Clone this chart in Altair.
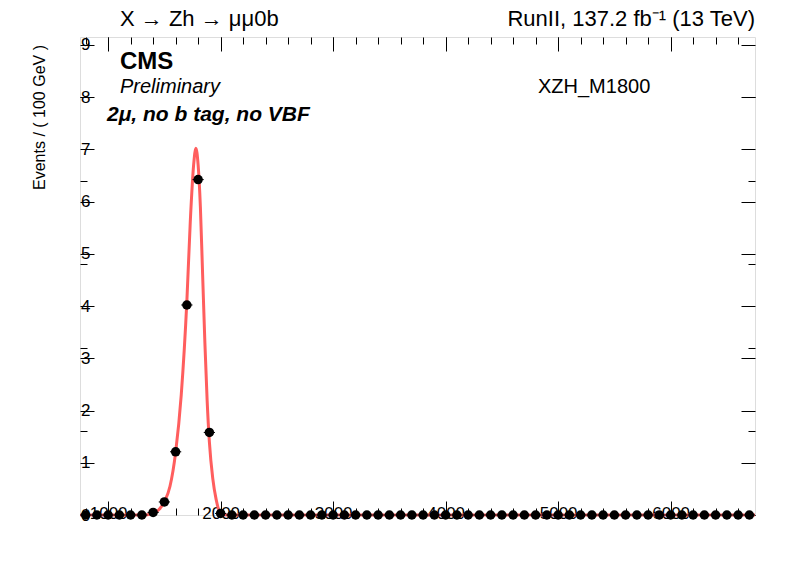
import altair as alt
import pandas as pd

# data points (bin centres, 100 GeV bins)
mass = list(range(800, 6800, 100))
events = [0.0] * len(mass)
peak = {1400: 0.05, 1500: 0.25, 1600: 1.21, 1700: 4.02, 1800: 6.42, 1900: 1.58, 2000: 0.03}
for m, v in peak.items():
    events[mass.index(m)] = v
yerr = [0.03 if v > 0 else 0.0 for v in events]

# signal shape
curve_x = [750, 1300, 1400, 1450, 1500, 1550, 1600, 1650, 1700, 1730, 1760, 1780,
           1800, 1820, 1840, 1860, 1880, 1900, 1930, 1960, 2000, 2050, 6750]
curve_y = [0.0, 0.0, 0.03, 0.1, 0.25, 0.55, 1.2, 2.3, 4.1, 5.6, 6.7, 7.02,
           6.7, 5.9, 4.6, 3.3, 2.2, 1.4, 0.7, 0.3, 0.03, 0.0, 0.0]

pts = pd.DataFrame({"m": mass, "n": events, "lo": [m - 50 for m in mass],
                    "hi": [m + 50 for m in mass],
                    "nlo": [n - e for n, e in zip(events, yerr)],
                    "nhi": [n + e for n, e in zip(events, yerr)]})
crv = pd.DataFrame({"m": curve_x, "n": curve_y})

FONT = "Liberation Sans"
xs = alt.Scale(domain=[750, 6750], nice=False, zero=False)
ys = alt.Scale(domain=[0, 9.15], nice=False)

def ax(size, vals, labels, orient):
    return alt.Axis(values=vals, tickSize=size, offset=-size, domain=False, grid=False,
                    labels=labels, labelPadding=-size + 4 if labels else 0, orient=orient,
                    format="d", labelFont=FONT, labelFontSize=17, labelColor="black",
                    tickColor="black", title=None)

major_x = list(range(1000, 7000, 1000))
minor_x = list(range(800, 6800, 200))
major_y = list(range(0, 10))
minor_y = [i / 5 for i in range(0, 46)]

base = alt.Chart(pts)
layers = []
for orient, lab in [("bottom", True), ("top", False)]:
    yo = "left" if lab else "right"
    layers.append(base.mark_point(opacity=0).encode(
        x=alt.X("m:Q", scale=xs, axis=ax(14, major_x, lab, orient)),
        y=alt.Y("n:Q", scale=ys, axis=ax(14, major_y, lab, yo))))
    layers.append(base.mark_point(opacity=0).encode(
        x=alt.X("m:Q", scale=xs, axis=ax(7, minor_x, False, orient)),
        y=alt.Y("n:Q", scale=ys, axis=ax(7, minor_y, False, yo))))

curve = alt.Chart(crv).mark_line(color="#ff5e5e", strokeWidth=3, interpolate="monotone").encode(
    x=alt.X("m:Q", scale=xs, axis=None), y=alt.Y("n:Q", scale=ys, axis=None))
herr = base.mark_rule(color="black", strokeWidth=1).encode(
    x=alt.X("lo:Q", scale=xs, axis=None), x2="hi", y=alt.Y("n:Q", scale=ys, axis=None))
verr = base.mark_rule(color="black", strokeWidth=1).encode(
    x=alt.X("m:Q", scale=xs, axis=None), y=alt.Y("nlo:Q", scale=ys, axis=None), y2="nhi")
dots = base.mark_circle(color="black", opacity=1, size=90).encode(
    x=alt.X("m:Q", scale=xs, axis=None), y=alt.Y("n:Q", scale=ys, axis=None))

def label(txt, x, y, size, weight="normal", style="normal", align="left"):
    return alt.Chart(pd.DataFrame({"t": [txt]})).mark_text(
        font=FONT, fontSize=size, fontWeight=weight, fontStyle=style, align=align,
        baseline="alphabetic", color="black").encode(
        text="t:N", x=alt.value(x), y=alt.value(y))

texts = [
    label("X → Zh → μμ0b", 40, -11, 22),
    label("RunII, 137.2 fb⁻¹  (13 TeV)", 675, -11, 22, align="right"),
    label("CMS", 40, 32, 24, weight="bold"),
    label("Preliminary", 40, 56, 20, style="italic"),
    label("2μ, no b tag, no VBF", 27, 84, 21, weight="bold", style="italic"),
    label("XZH_M1800", 458, 56, 20),
    label("m", 592, 552, 16),
    label("ZH", 605, 556, 11),
    label("(GeV)", 627, 552, 16),
]
ytitle = alt.Chart(pd.DataFrame({"t": ["Events / ( 100 GeV )"]})).mark_text(
    font=FONT, fontSize=16, angle=270, align="right", color="black").encode(
    text="t:N", x=alt.value(-40), y=alt.value(8))

chart = alt.layer(*layers, curve, herr, verr, dots, *texts, ytitle).resolve_axis(
    x="independent", y="independent").properties(
    width=675, height=478,
    autosize=alt.AutoSizeParams(type="none"),
    padding={"left": 72, "top": 29, "right": 33, "bottom": 49},
).configure_view(stroke="black", strokeWidth=1).configure(background="white")

chart.save("out.html", embed_options={"renderer": "svg", "actions": False})
